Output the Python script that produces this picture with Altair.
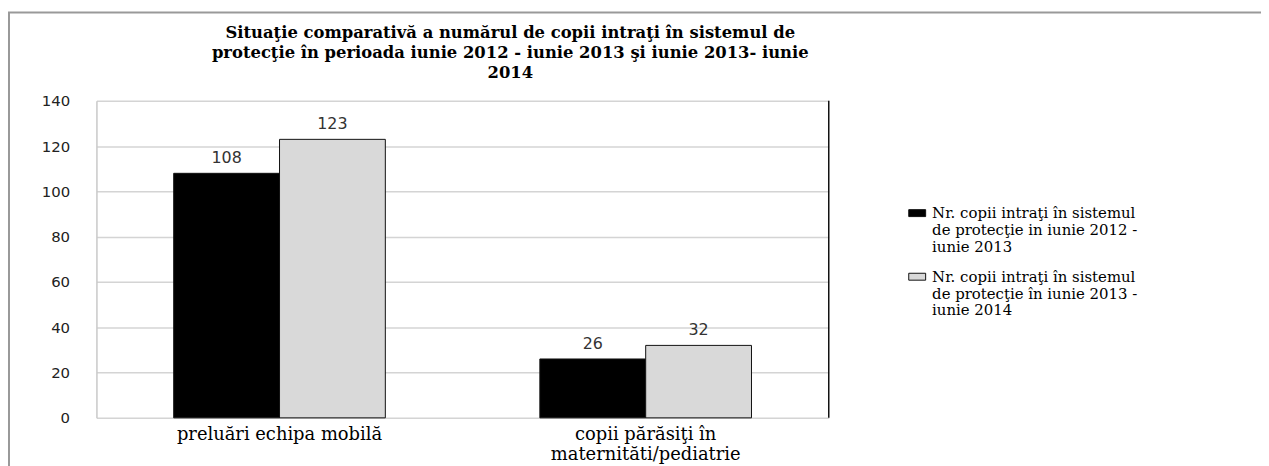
import altair as alt
import pandas as pd

# ---- data ----
categories = ["preluări echipa mobilă", "copii părăsiţi în|maternităti/pediatrie"]
series = [
    "Nr. copii  intraţi în sistemul|de protecţie in  iunie 2012 -|iunie 2013",
    "Nr. copii  intraţi în sistemul|de protecţie în  iunie 2013 -|iunie 2014",
]
values_2012_2013 = [108, 26]
values_2013_2014 = [123, 32]
y_ticks = [0, 20, 40, 60, 80, 100, 120, 140]
title_lines = [
    "Situaţie comparativă a numărul de copii intraţi în sistemul de",
    "protecţie  în perioada iunie 2012 - iunie 2013 şi  iunie 2013- iunie",
    "2014",
]
series_colors = ["#000000", "#d9d9d9"]

rows = []
for cat, v in zip(categories, values_2012_2013):
    rows.append({"cat": cat, "series": series[0], "value": v})
for cat, v in zip(categories, values_2013_2014):
    rows.append({"cat": cat, "series": series[1], "value": v})
df = pd.DataFrame(rows)

W, H = 737, 319
SERIF = "DejaVu Serif"

x_enc = alt.X(
    "cat:N", sort=categories,
    scale=alt.Scale(paddingInner=0.422, paddingOuter=0.211),
    axis=alt.Axis(title=None, labelAngle=0, ticks=False, domain=False,
                  labelExpr="split(datum.label, '|')",
                  labelFont=SERIF, labelFontSize=18, labelColor="#000",
                  labelPadding=8, labelLimit=400),
)
xo_enc = alt.XOffset("series:N", sort=series,
                     scale=alt.Scale(paddingInner=0, paddingOuter=0))
y_enc = alt.Y(
    "value:Q", scale=alt.Scale(domain=[0, 140], nice=False),
    axis=alt.Axis(title=None, values=y_ticks, grid=True, gridColor="#d4d4d4",
                  gridWidth=1.5, ticks=False, domainColor="#c8c8c8", domainWidth=1.5,
                  labelFont="DejaVu Sans", labelFontSize=15, labelColor="#222",
                  labelPadding=27),
)

bars = alt.Chart(df).mark_bar(stroke="#111", strokeWidth=1).encode(
    x=x_enc, xOffset=xo_enc, y=y_enc,
    color=alt.Color(
        "series:N", sort=series,
        scale=alt.Scale(domain=series, range=series_colors),
        legend=alt.Legend(
            orient="none", legendX=817, legendY=97, title=None, padding=0,
            labelExpr="split(datum.label, '|')",
            labelFont=SERIF, labelFontSize=15, labelColor="#000",
            labelBaseline="top", labelLimit=400, labelOffset=6,
            symbolType="M-1,0.41H1V1.23H-1Z", symbolSize=289,
            symbolStrokeColor="#111", symbolStrokeWidth=1,
            rowPadding=6,
        ),
    ),
)

labels = alt.Chart(df).mark_text(
    dy=-10, baseline="alphabetic", font="DejaVu Sans", fontSize=16, color="#333"
).encode(x=x_enc, xOffset=xo_enc, y=y_enc, text="value:Q")

right_edge = alt.Chart(alt.Data(values=[{}])).mark_rule(
    color="#111", strokeWidth=1.5
).encode(x=alt.value(W), y=alt.value(0), y2=alt.value(H))

frame = alt.Chart(alt.Data(values=[{}])).mark_rect(
    fill=None, stroke="#999999", strokeWidth=2
).encode(x=alt.value(-88), x2=alt.value(1400), y=alt.value(-89), y2=alt.value(700))

chart = alt.layer(frame, bars, labels, right_edge).properties(
    width=W, height=H,
    autosize=alt.AutoSizeParams(type="none"),
    padding={"left": 89, "top": 92, "right": 435, "bottom": 47},
    title=alt.TitleParams(
        text=title_lines, font=SERIF, fontSize=16.5, fontWeight="bold",
        color="#000", anchor="middle", dx=48, lineHeight=20, offset=-70,
    ),
).configure_view(stroke=None)

chart.save("out.html", embed_options={"renderer": "svg", "actions": False})
